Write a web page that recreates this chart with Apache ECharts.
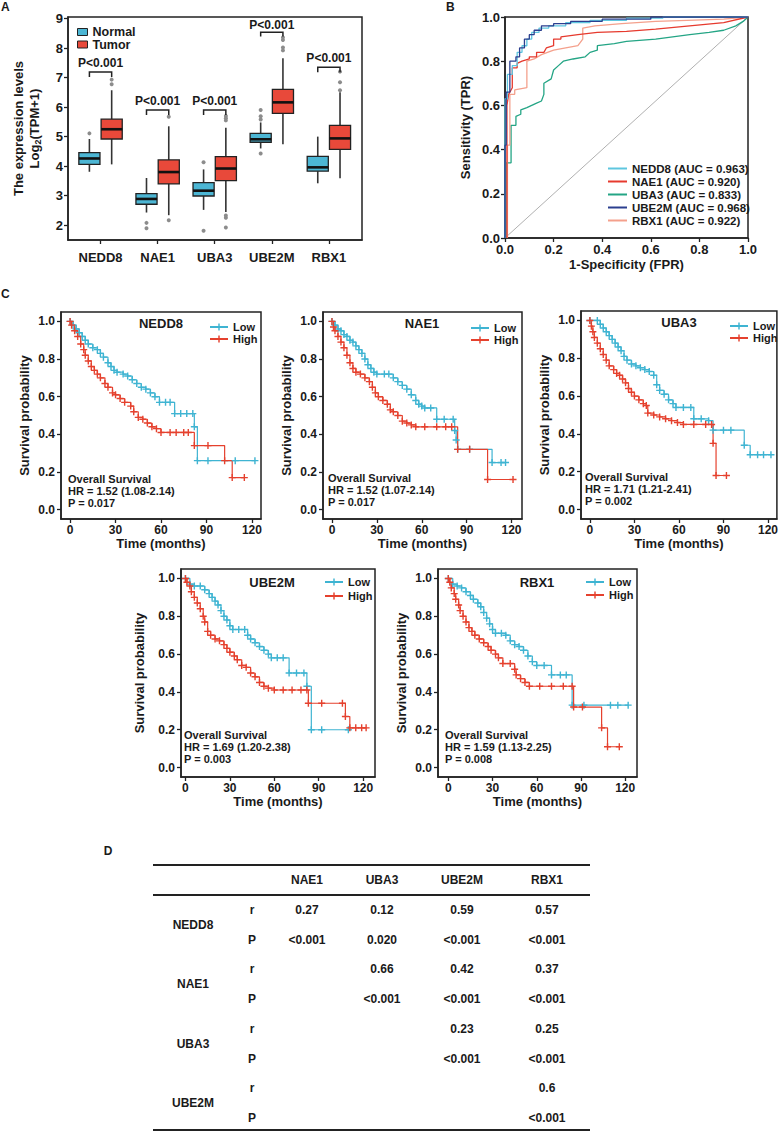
<!DOCTYPE html>
<html>
<head>
<meta charset="utf-8">
<script src="https://cdn.jsdelivr.net/npm/echarts@6.0.0/dist/echarts.min.js"></script>
<style>
  html, body { margin: 0; padding: 0; background: #fff; }
  #wrap { position: relative; width: 781px; height: 1133px; }
  #chart { position: absolute; left: 0; top: 0; width: 781px; height: 1133px; }
  #table { position: absolute; left: 0; top: 0; width: 781px; height: 1133px; pointer-events: none;
    font-family: 'Liberation Sans', Arial, sans-serif; font-weight: bold; font-size: 12px; color: #1a1a1a; }
  .cell { position: absolute; transform: translate(-50%, -50%); white-space: nowrap; line-height: 14px; }
  .rule { position: absolute; left: 153px; width: 437px; height: 2px; background: #222; }
</style>
</head>
<body>
<div id="wrap">
  <div id="chart"></div>
  <div id="table"></div>
</div>
<script>
const FONT = "'Liberation Sans', Arial, sans-serif";
const INK = '#1a1a1a';

// ---------- A: expression boxplots ----------
const genes = ['NEDD8', 'NAE1', 'UBA3', 'UBE2M', 'RBX1'];
// [min, q1, median, q3, max]
const normalBoxes = [
  [3.81, 4.06, 4.26, 4.46, 4.92],
  [2.43, 2.71, 2.89, 3.07, 3.60],
  [2.52, 2.99, 3.17, 3.44, 3.89],
  [4.60, 4.81, 4.91, 5.11, 5.48],
  [3.42, 3.83, 3.96, 4.33, 5.00]
];
const tumorBoxes = [
  [4.06, 4.92, 5.25, 5.59, 6.57],
  [2.34, 3.40, 3.80, 4.21, 5.35],
  [2.45, 3.51, 3.92, 4.32, 5.30],
  [4.74, 5.79, 6.16, 6.60, 7.65],
  [3.59, 4.57, 4.94, 5.38, 6.50]
];
const normalOutliers = [[1, 5.11], [2, 2.08], [2, 1.90], [3, 4.13], [3, 1.81],
  [4, 5.90], [4, 5.69], [4, 5.58], [4, 4.43]];
const tumorOutliers = [[1, 6.93], [1, 6.77], [2, 5.67], [2, 2.17],
  [3, 5.70], [3, 5.62], [3, 5.55], [3, 2.33], [3, 2.25], [3, 1.92],
  [4, 8.36], [4, 8.27], [4, 8.02], [4, 7.92], [5, 7.20], [5, 6.84], [5, 6.57]];
// [bracket top, leg bottom, label y]
const pBrackets = [[7.19, 7.02, 7.48], [5.90, 5.73, 6.22], [5.90, 5.73, 6.22], [8.53, 8.39, 8.78], [7.35, 7.18, 7.66]];
const pLabels = ['P<0.001', 'P<0.001', 'P<0.001', 'P<0.001', 'P<0.001'];
const exprTicks = [2, 3, 4, 5, 6, 7, 8, 9];
const geneTicks = [1, 2, 3, 4, 5];

// ---------- B: ROC ----------
const rocGenes = ['NEDD8', 'NAE1', 'UBA3', 'UBE2M', 'RBX1'];
const rocAuc = ['0.963', '0.920', '0.833', '0.968', '0.922'];
const rocNEDD8 = [[0, 0], [0, 0.63], [0.01, 0.63], [0.01, 0.74], [0.03, 0.74], [0.03, 0.78], [0.05, 0.78], [0.05, 0.84],
  [0.07, 0.84], [0.07, 0.87], [0.09, 0.87], [0.09, 0.9], [0.11, 0.9], [0.11, 0.93], [0.14, 0.93], [0.14, 0.95],
  [0.18, 0.95], [0.18, 0.96], [0.25, 0.96], [0.25, 0.975], [0.35, 0.975], [0.35, 0.985], [0.5, 0.985], [0.5, 0.995],
  [0.65, 0.995], [0.65, 1], [1, 1]];
const rocNAE1 = [[0.008, 0], [0.008, 0.6], [0.015, 0.65], [0.03, 0.68], [0.03, 0.77], [0.05, 0.77], [0.05, 0.79],
  [0.07, 0.8], [0.1, 0.81], [0.1, 0.82], [0.13, 0.82], [0.13, 0.84], [0.16, 0.84], [0.17, 0.86], [0.2, 0.87],
  [0.2, 0.9], [0.23, 0.9], [0.23, 0.91], [0.3, 0.92], [0.38, 0.93], [0.5, 0.935], [0.62, 0.945], [0.76, 0.96],
  [0.9, 0.975], [1, 1]];
const rocUBA3 = [[0.005, 0], [0.005, 0.34], [0.025, 0.34], [0.025, 0.51], [0.045, 0.51], [0.045, 0.55], [0.065, 0.56],
  [0.065, 0.58], [0.09, 0.59], [0.11, 0.6], [0.13, 0.61], [0.15, 0.62], [0.16, 0.65], [0.16, 0.7], [0.19, 0.72],
  [0.2, 0.76], [0.22, 0.78], [0.24, 0.8], [0.28, 0.81], [0.33, 0.82], [0.35, 0.84], [0.38, 0.85], [0.38, 0.87],
  [0.45, 0.88], [0.5, 0.89], [0.62, 0.9], [0.76, 0.92], [0.84, 0.93], [0.9, 0.94], [0.95, 0.96], [0.98, 0.98], [1, 1]];
const rocUBE2M = [[0, 0], [0, 0.42], [0.005, 0.42], [0.005, 0.66], [0.02, 0.66], [0.02, 0.8], [0.045, 0.8], [0.045, 0.82],
  [0.06, 0.82], [0.06, 0.86], [0.08, 0.86], [0.08, 0.9], [0.1, 0.9], [0.1, 0.92], [0.12, 0.92], [0.12, 0.94],
  [0.15, 0.94], [0.15, 0.96], [0.2, 0.96], [0.2, 0.97], [0.27, 0.97], [0.27, 0.98], [0.4, 0.98], [0.4, 0.99],
  [0.6, 0.99], [0.6, 1], [1, 1]];
const rocRBX1 = [[0.01, 0], [0.01, 0.42], [0.02, 0.42], [0.02, 0.65], [0.04, 0.65], [0.04, 0.67], [0.09, 0.68],
  [0.09, 0.8], [0.12, 0.81], [0.15, 0.83], [0.2, 0.85], [0.25, 0.86], [0.3, 0.87], [0.32, 0.9], [0.32, 0.95],
  [0.37, 0.96], [0.48, 0.97], [0.62, 0.98], [0.75, 0.985], [0.9, 0.99], [1, 1]];
const rocDiagonal = [[0, 0], [1, 1]];

// ---------- C: Kaplan-Meier ----------
const kmGenes = ['NEDD8', 'NAE1', 'UBA3', 'UBE2M', 'RBX1'];
const kmHR = ['1.52 (1.08-2.14)', '1.52 (1.07-2.14)', '1.71 (1.21-2.41)', '1.69 (1.20-2.38)', '1.59 (1.13-2.25)'];
const kmP = ['0.017', '0.017', '0.002', '0.003', '0.008'];
const monthTicks = [0, 30, 60, 90, 120];
const survTicks = [0, 0.2, 0.4, 0.6, 0.8, 1.0];

const nedd8Low = [[0, 1.0], [2, 0.98], [4, 0.96], [6, 0.94], [8, 0.92], [10, 0.9], [12, 0.88], [15, 0.86], [18, 0.85],
  [20, 0.83], [22, 0.81], [25, 0.78], [27, 0.76], [29, 0.74], [31, 0.73], [35, 0.72], [38, 0.71], [41, 0.69],
  [44, 0.67], [47, 0.65], [50, 0.64], [53, 0.62], [56, 0.6], [59, 0.57], [63, 0.57], [66, 0.57], [69, 0.51],
  [73, 0.51], [77, 0.51], [81, 0.51], [82, 0.44], [84, 0.26], [91, 0.26], [109, 0.26], [122, 0.26]];
const nedd8High = [[0, 1.0], [1, 0.98], [3, 0.95], [5, 0.92], [7, 0.88], [9, 0.85], [10, 0.82], [12, 0.79], [14, 0.76],
  [16, 0.74], [18, 0.72], [20, 0.7], [23, 0.67], [25, 0.65], [28, 0.62], [30, 0.61], [33, 0.59], [36, 0.57],
  [40, 0.55], [42, 0.52], [45, 0.49], [48, 0.48], [51, 0.46], [54, 0.44], [57, 0.43], [60, 0.41], [66, 0.41],
  [70, 0.41], [75, 0.41], [78, 0.41], [82, 0.34], [91, 0.34], [102, 0.26], [107, 0.17], [115, 0.17]];
const nae1Low = [[0, 1.0], [2, 0.98], [4, 0.96], [6, 0.95], [8, 0.93], [10, 0.92], [12, 0.9], [14, 0.89], [16, 0.87],
  [18, 0.85], [20, 0.83], [22, 0.8], [24, 0.77], [26, 0.75], [28, 0.73], [30, 0.72], [35, 0.72], [38, 0.72],
  [41, 0.7], [44, 0.68], [47, 0.66], [50, 0.64], [53, 0.61], [56, 0.58], [58, 0.56], [60, 0.55], [62, 0.54],
  [66, 0.54], [70, 0.48], [75, 0.48], [81, 0.48], [82, 0.42], [83, 0.37], [84, 0.32], [92, 0.32], [107, 0.25],
  [113, 0.25], [116, 0.25]];
const nae1High = [[0, 1.0], [1, 0.97], [2, 0.95], [4, 0.92], [6, 0.89], [8, 0.86], [10, 0.82], [12, 0.78], [14, 0.75],
  [16, 0.73], [19, 0.72], [22, 0.7], [25, 0.68], [27, 0.65], [29, 0.62], [31, 0.6], [34, 0.58], [37, 0.56],
  [39, 0.53], [41, 0.52], [44, 0.5], [47, 0.47], [50, 0.46], [53, 0.45], [56, 0.44], [62, 0.44], [70, 0.44],
  [76, 0.44], [80, 0.44], [84, 0.32], [92, 0.32], [104, 0.16], [121, 0.16]];
const uba3Low = [[0, 1.0], [5, 1.0], [7, 0.98], [9, 0.96], [11, 0.94], [13, 0.92], [15, 0.9], [17, 0.88], [19, 0.86],
  [21, 0.84], [23, 0.81], [25, 0.79], [28, 0.77], [31, 0.76], [34, 0.75], [37, 0.74], [40, 0.73], [43, 0.71],
  [45, 0.66], [47, 0.63], [50, 0.61], [53, 0.58], [56, 0.56], [58, 0.54], [63, 0.54], [68, 0.54], [70, 0.48],
  [75, 0.48], [80, 0.47], [83, 0.42], [90, 0.42], [95, 0.42], [104, 0.34], [108, 0.29], [113, 0.29], [117, 0.29],
  [122, 0.29]];
const uba3High = [[0, 1.0], [1, 0.97], [2, 0.94], [3, 0.91], [5, 0.88], [7, 0.85], [9, 0.82], [11, 0.79], [13, 0.76],
  [16, 0.74], [18, 0.72], [20, 0.71], [22, 0.69], [24, 0.67], [26, 0.64], [28, 0.62], [30, 0.6], [33, 0.58],
  [36, 0.56], [38, 0.55], [39, 0.51], [43, 0.5], [47, 0.49], [51, 0.48], [55, 0.47], [59, 0.46], [63, 0.45],
  [70, 0.45], [78, 0.45], [82, 0.45], [83, 0.35], [85, 0.18], [92, 0.18]];
const ube2mLow = [[0, 1.0], [3, 0.97], [6, 0.96], [10, 0.96], [13, 0.94], [16, 0.92], [18, 0.9], [20, 0.88], [22, 0.86],
  [24, 0.83], [26, 0.8], [28, 0.78], [30, 0.75], [32, 0.73], [36, 0.73], [40, 0.73], [42, 0.7], [44, 0.68],
  [47, 0.66], [50, 0.64], [53, 0.62], [56, 0.6], [58, 0.58], [62, 0.58], [66, 0.58], [70, 0.5], [75, 0.5],
  [80, 0.5], [82, 0.43], [85, 0.2], [92, 0.2], [110, 0.2]];
const ube2mHigh = [[0, 1.0], [1, 0.98], [3, 0.96], [4, 0.93], [6, 0.9], [8, 0.87], [10, 0.84], [12, 0.8], [13, 0.77],
  [15, 0.72], [17, 0.7], [20, 0.68], [23, 0.67], [26, 0.65], [28, 0.63], [30, 0.61], [33, 0.59], [35, 0.57],
  [38, 0.54], [41, 0.53], [44, 0.5], [47, 0.48], [50, 0.45], [53, 0.43], [56, 0.42], [60, 0.41], [66, 0.41],
  [72, 0.41], [78, 0.41], [82, 0.41], [83, 0.34], [92, 0.34], [106, 0.34], [108, 0.27], [111, 0.21], [115, 0.21],
  [119, 0.21], [122, 0.21]];
const rbx1Low = [[0, 1.0], [3, 0.97], [6, 0.96], [9, 0.95], [12, 0.93], [15, 0.91], [17, 0.89], [20, 0.87], [22, 0.85],
  [24, 0.82], [26, 0.79], [28, 0.76], [30, 0.73], [32, 0.71], [36, 0.71], [39, 0.7], [42, 0.67], [45, 0.65],
  [48, 0.64], [51, 0.62], [54, 0.59], [57, 0.56], [60, 0.54], [65, 0.54], [70, 0.49], [76, 0.49], [80, 0.49],
  [84, 0.33], [92, 0.33], [110, 0.33], [115, 0.33], [122, 0.33]];
const rbx1High = [[0, 1.0], [1, 0.98], [2, 0.95], [4, 0.92], [5, 0.89], [7, 0.86], [8, 0.83], [10, 0.8], [12, 0.77],
  [14, 0.74], [16, 0.72], [18, 0.7], [21, 0.68], [24, 0.66], [27, 0.64], [29, 0.62], [32, 0.6], [34, 0.58],
  [37, 0.55], [42, 0.55], [45, 0.52], [46, 0.49], [49, 0.47], [52, 0.45], [55, 0.43], [62, 0.43], [70, 0.43],
  [78, 0.43], [84, 0.43], [85, 0.32], [91, 0.32], [104, 0.21], [108, 0.11], [116, 0.11]];
const kmLow = [nedd8Low, nae1Low, uba3Low, ube2mLow, rbx1Low];
const kmHigh = [nedd8High, nae1High, uba3High, ube2mHigh, rbx1High];

// ---------- D: correlation table ----------
const corrCols = ['NAE1', 'UBA3', 'UBE2M', 'RBX1'];
const corrRows = ['NEDD8', 'NAE1', 'UBA3', 'UBE2M'];
const corrR = [['0.27', '0.12', '0.59', '0.57'], ['', '0.66', '0.42', '0.37'], ['', '', '0.23', '0.25'], ['', '', '', '0.6']];
const corrP = [['<0.001', '0.020', '<0.001', '<0.001'], ['', '<0.001', '<0.001', '<0.001'],
  ['', '', '<0.001', '<0.001'], ['', '', '', '<0.001']];

// ---------- layout ----------
const kmLayout = [
  { grid: [61, 312, 200, 207], x: [-6, 126], gap: 30, title: [161, 323], stats: [68, 473], legend: [209, 321, 0] },
  { grid: [323, 312, 199, 207], x: [-6, 127], gap: 30, title: [422, 323], stats: [328, 472], legend: [470, 322, 0] },
  { grid: [581, 311, 198, 208], x: [-6, 126], gap: 30, title: [679, 322], stats: [585, 471], legend: [729, 320, 0] },
  { grid: [181, 569, 194, 208], x: [-3, 128], gap: 35, title: [272, 582], stats: [184, 729], legend: [324, 576, 2] },
  { grid: [438, 569, 199, 208], x: [-7, 128], gap: 30, title: [537, 582], stats: [445, 729], legend: [585, 576, 1] }
];
const NORMAL = '#4cb6d4';
const TUMOR = '#e8493a';
const LOW = '#3fb4d2';
const HIGH = '#e5412e';
const rocColors = ['#5ec6df', '#e63a2e', '#24a585', '#2b3f8f', '#f4a08c'];
const PLUS = 'path://M4,0H6V10H4Z M0,4H10V6H0Z';

const bold = (size) => ({ fontSize: size, fontWeight: 'bold', fontFamily: FONT, color: INK });
const frame = { show: true, borderColor: '#222', borderWidth: 1.5, backgroundColor: 'transparent' };
const axLine = { show: true, onZero: false, lineStyle: { color: '#222', width: 1.5 } };
const tick = (vals) => ({ show: true, length: 4, customValues: vals, lineStyle: { color: '#222', width: 1.3 } });

const chart = echarts.init(document.getElementById('chart'), null, { renderer: 'svg' });

const grids = [
  { left: 68, top: 17, width: 294, height: 223, ...frame },
  { left: 505, top: 17, width: 243, height: 221, ...frame }
];
kmLayout.forEach(l => grids.push({ left: l.grid[0], top: l.grid[1], width: l.grid[2], height: l.grid[3], ...frame }));

const xAxes = [
  { type: 'value', gridIndex: 0, min: 0.43, max: 5.58, axisLine: axLine, axisTick: tick(geneTicks),
    axisLabel: { customValues: geneTicks, margin: 11, formatter: v => genes[Math.round(v) - 1], ...bold(13) },
    splitLine: { show: false } },
  { type: 'value', gridIndex: 1, min: 0, max: 1, interval: 0.2, axisLine: axLine,
    axisTick: { show: true, length: 4, lineStyle: { color: '#222', width: 1.3 } },
    axisLabel: { margin: 5, formatter: v => v.toFixed(1), ...bold(13) }, splitLine: { show: false },
    name: '1-Specificity (FPR)', nameLocation: 'middle', nameGap: 20, nameTextStyle: bold(13) }
];
const yAxes = [
  { type: 'value', gridIndex: 0, min: 1.5, max: 9.05, axisLine: axLine, axisTick: tick(exprTicks),
    axisLabel: { customValues: exprTicks, margin: 5, ...bold(13) }, splitLine: { show: false },
    name: 'The expression levels\nLog{sub|2}(TPM+1)', nameLocation: 'middle', nameGap: 26,
    nameTextStyle: { ...bold(13), lineHeight: 16,
      rich: { sub: { fontSize: 9, fontWeight: 'bold', fontFamily: FONT, color: INK, verticalAlign: 'bottom', lineHeight: 14 } } } },
  { type: 'value', gridIndex: 1, min: 0, max: 1, interval: 0.2, axisLine: axLine,
    axisTick: { show: true, length: 4, lineStyle: { color: '#222', width: 1.3 } },
    axisLabel: { margin: 5, formatter: v => v.toFixed(1), ...bold(13) }, splitLine: { show: false },
    name: 'Sensitivity (TPR)', nameLocation: 'middle', nameGap: 33, nameTextStyle: bold(13) }
];
kmLayout.forEach((l, k) => {
  xAxes.push({ type: 'value', gridIndex: 2 + k, min: l.x[0], max: l.x[1], axisLine: axLine, axisTick: tick(monthTicks),
    axisLabel: { customValues: monthTicks, margin: 5, ...bold(12) }, splitLine: { show: false },
    name: 'Time (months)', nameLocation: 'middle', nameGap: 18, nameTextStyle: bold(13) });
  yAxes.push({ type: 'value', gridIndex: 2 + k, min: -0.05, max: 1.05, axisLine: axLine, axisTick: tick(survTicks),
    axisLabel: { customValues: survTicks, margin: 6, formatter: v => v.toFixed(1), ...bold(12) }, splitLine: { show: false },
    name: 'Survival probability', nameLocation: 'middle', nameGap: l.gap, nameTextStyle: bold(13) });
});

// box drawing for panel A
function boxSeries(name, color, boxes, shift) {
  return {
    name, type: 'custom', xAxisIndex: 0, yAxisIndex: 0, itemStyle: { color },
    data: boxes.map((b, i) => [i + 1].concat(b)),
    renderItem(params, api) {
      const x = api.value(0) + shift;
      const half = api.size([0.185, 0])[0];
      const y = k => api.coord([x, api.value(k)])[1];
      const cx = api.coord([x, api.value(1)])[0];
      const wh = { stroke: '#333', lineWidth: 1.6 };
      return { type: 'group', children: [
        { type: 'line', shape: { x1: cx, y1: y(5), x2: cx, y2: y(4) }, style: wh },
        { type: 'line', shape: { x1: cx, y1: y(2), x2: cx, y2: y(1) }, style: wh },
        { type: 'rect', shape: { x: cx - half, y: y(4), width: half * 2, height: y(2) - y(4) },
          style: { fill: color, stroke: '#222', lineWidth: 1.3 } },
        { type: 'line', shape: { x1: cx - half, y1: y(3), x2: cx + half, y2: y(3) }, style: { stroke: '#111', lineWidth: 2.6 } }
      ] };
    }
  };
}
function outlierSeries(points, shift) {
  return {
    type: 'custom', xAxisIndex: 0, yAxisIndex: 0, data: points,
    renderItem(params, api) {
      const p = api.coord([api.value(0) + shift, api.value(1)]);
      return { type: 'circle', shape: { cx: p[0], cy: p[1], r: 2 }, style: { fill: '#8c8c8c' } };
    }
  };
}

const series = [
  boxSeries('Normal', NORMAL, normalBoxes, -0.195),
  boxSeries('Tumor', TUMOR, tumorBoxes, 0.195),
  outlierSeries(normalOutliers, -0.195),
  outlierSeries(tumorOutliers, 0.195),
  {
    type: 'custom', xAxisIndex: 0, yAxisIndex: 0,
    data: pBrackets.map((b, i) => [i + 1].concat(b)),
    renderItem(params, api) {
      const g = api.value(0);
      const l = api.coord([g - 0.195, api.value(1)]);
      const r = api.coord([g + 0.195, api.value(1)]);
      const legY = api.coord([g, api.value(2)])[1];
      const lab = api.coord([g, api.value(3)]);
      return { type: 'group', children: [
        { type: 'polyline', shape: { points: [[l[0], legY], l, r, [r[0], legY]] }, style: { stroke: '#222', lineWidth: 1.5, fill: null } },
        { type: 'text', x: lab[0], y: lab[1], style: { text: pLabels[params.dataIndex], fill: INK, fontSize: 12, fontWeight: 'bold',
          fontFamily: FONT, align: 'center', verticalAlign: 'middle' } }
      ] };
    }
  },
  { type: 'line', xAxisIndex: 1, yAxisIndex: 1, data: rocDiagonal, symbol: 'none', lineStyle: { color: '#b0b0b0', width: 1 }, silent: true }
];
const rocData = [rocNEDD8, rocNAE1, rocUBA3, rocUBE2M, rocRBX1];
const rocNames = rocGenes.map((g, i) => g + ' (AUC = ' + rocAuc[i] + ')');
[2, 4, 1, 0, 3].forEach(i => series.push({
  name: rocNames[i], type: 'line', xAxisIndex: 1, yAxisIndex: 1, data: rocData[i], symbol: 'none',
  color: rocColors[i], lineStyle: { color: rocColors[i], width: 1.3 }
}));
kmLayout.forEach((l, k) => {
  [['Low', LOW, kmLow[k]], ['High', HIGH, kmHigh[k]]].forEach(([name, color, data]) => series.push({
    name, type: 'line', xAxisIndex: 2 + k, yAxisIndex: 2 + k, data, step: 'end', color,
    symbol: PLUS, symbolSize: 7, showAllSymbol: true, lineStyle: { color, width: 1.2 }, itemStyle: { color }
  }));
});

const legends = [
  { left: 77, top: 25.5, padding: 0, selectedMode: false, itemWidth: 10, itemHeight: 7,
    data: [{ name: 'Normal', icon: 'rect', itemStyle: { color: NORMAL, borderColor: '#222', borderWidth: 1 } }],
    textStyle: { ...bold(12.5), lineHeight: 12 } },
  { left: 77, top: 38, padding: 0, selectedMode: false, itemWidth: 10, itemHeight: 7,
    data: [{ name: 'Tumor', icon: 'rect', itemStyle: { color: TUMOR, borderColor: '#222', borderWidth: 1 } }],
    textStyle: { ...bold(12.5), lineHeight: 12 } },
  { left: 608, top: 162, padding: 0, orient: 'vertical', selectedMode: false, itemWidth: 19, itemHeight: 2, itemGap: 0,
    icon: 'rect', data: rocNames, textStyle: { ...bold(11.5), lineHeight: 13 } }
];
kmLayout.forEach(l => legends.push({
  left: l.legend[0], top: l.legend[1], padding: 0, orient: 'vertical', selectedMode: false,
  itemWidth: 18, itemHeight: 9, itemGap: l.legend[2], data: ['Low', 'High'], textStyle: { ...bold(11), lineHeight: 12 }
}));

const txt = (text, x, y, size, extra) => ({ type: 'text', x, y, silent: true,
  style: Object.assign({ text, fill: INK, fontSize: size, fontWeight: 'bold', fontFamily: FONT }, extra || {}) });
const graphics = [
  txt('A', 1, 1, 12), txt('B', 446, 1, 12), txt('C', 1, 288, 12)
];
kmLayout.forEach((l, k) => {
  graphics.push(txt(kmGenes[k], l.title[0], l.title[1], 13, { align: 'center', verticalAlign: 'middle' }));
  graphics.push(txt('Overall Survival\nHR = ' + kmHR[k] + '\nP = ' + kmP[k], l.stats[0], l.stats[1], 11,
    { lineHeight: 12, verticalAlign: 'top' }));
});

chart.setOption({
  animation: false,
  backgroundColor: '#fff',
  grid: grids,
  xAxis: xAxes,
  yAxis: yAxes,
  legend: legends,
  graphic: graphics,
  series
});

// ---------- D: table (HTML text) ----------
const tbl = document.getElementById('table');
function cell(text, x, y) {
  const d = document.createElement('div');
  d.className = 'cell';
  d.style.left = x + 'px';
  d.style.top = y + 'px';
  d.textContent = text;
  tbl.appendChild(d);
}
function rule(y) {
  const d = document.createElement('div');
  d.className = 'rule';
  d.style.top = y + 'px';
  tbl.appendChild(d);
}
const colX = [307, 382, 462, 547];
const rowY0 = 910, rowStep = 29.7;
cell('D', 108, 851);
rule(864); rule(894); rule(1129);
corrCols.forEach((c, j) => cell(c, colX[j], 880));
corrRows.forEach((g, i) => {
  const yr = rowY0 + rowStep * 2 * i, yp = yr + rowStep;
  cell(g, 193, (yr + yp) / 2);
  cell('r', 252, yr);
  cell('P', 252, yp);
  corrR[i].forEach((v, j) => { if (v) cell(v, colX[j], yr); });
  corrP[i].forEach((v, j) => { if (v) cell(v, colX[j], yp); });
});
</script>
</body>
</html>
